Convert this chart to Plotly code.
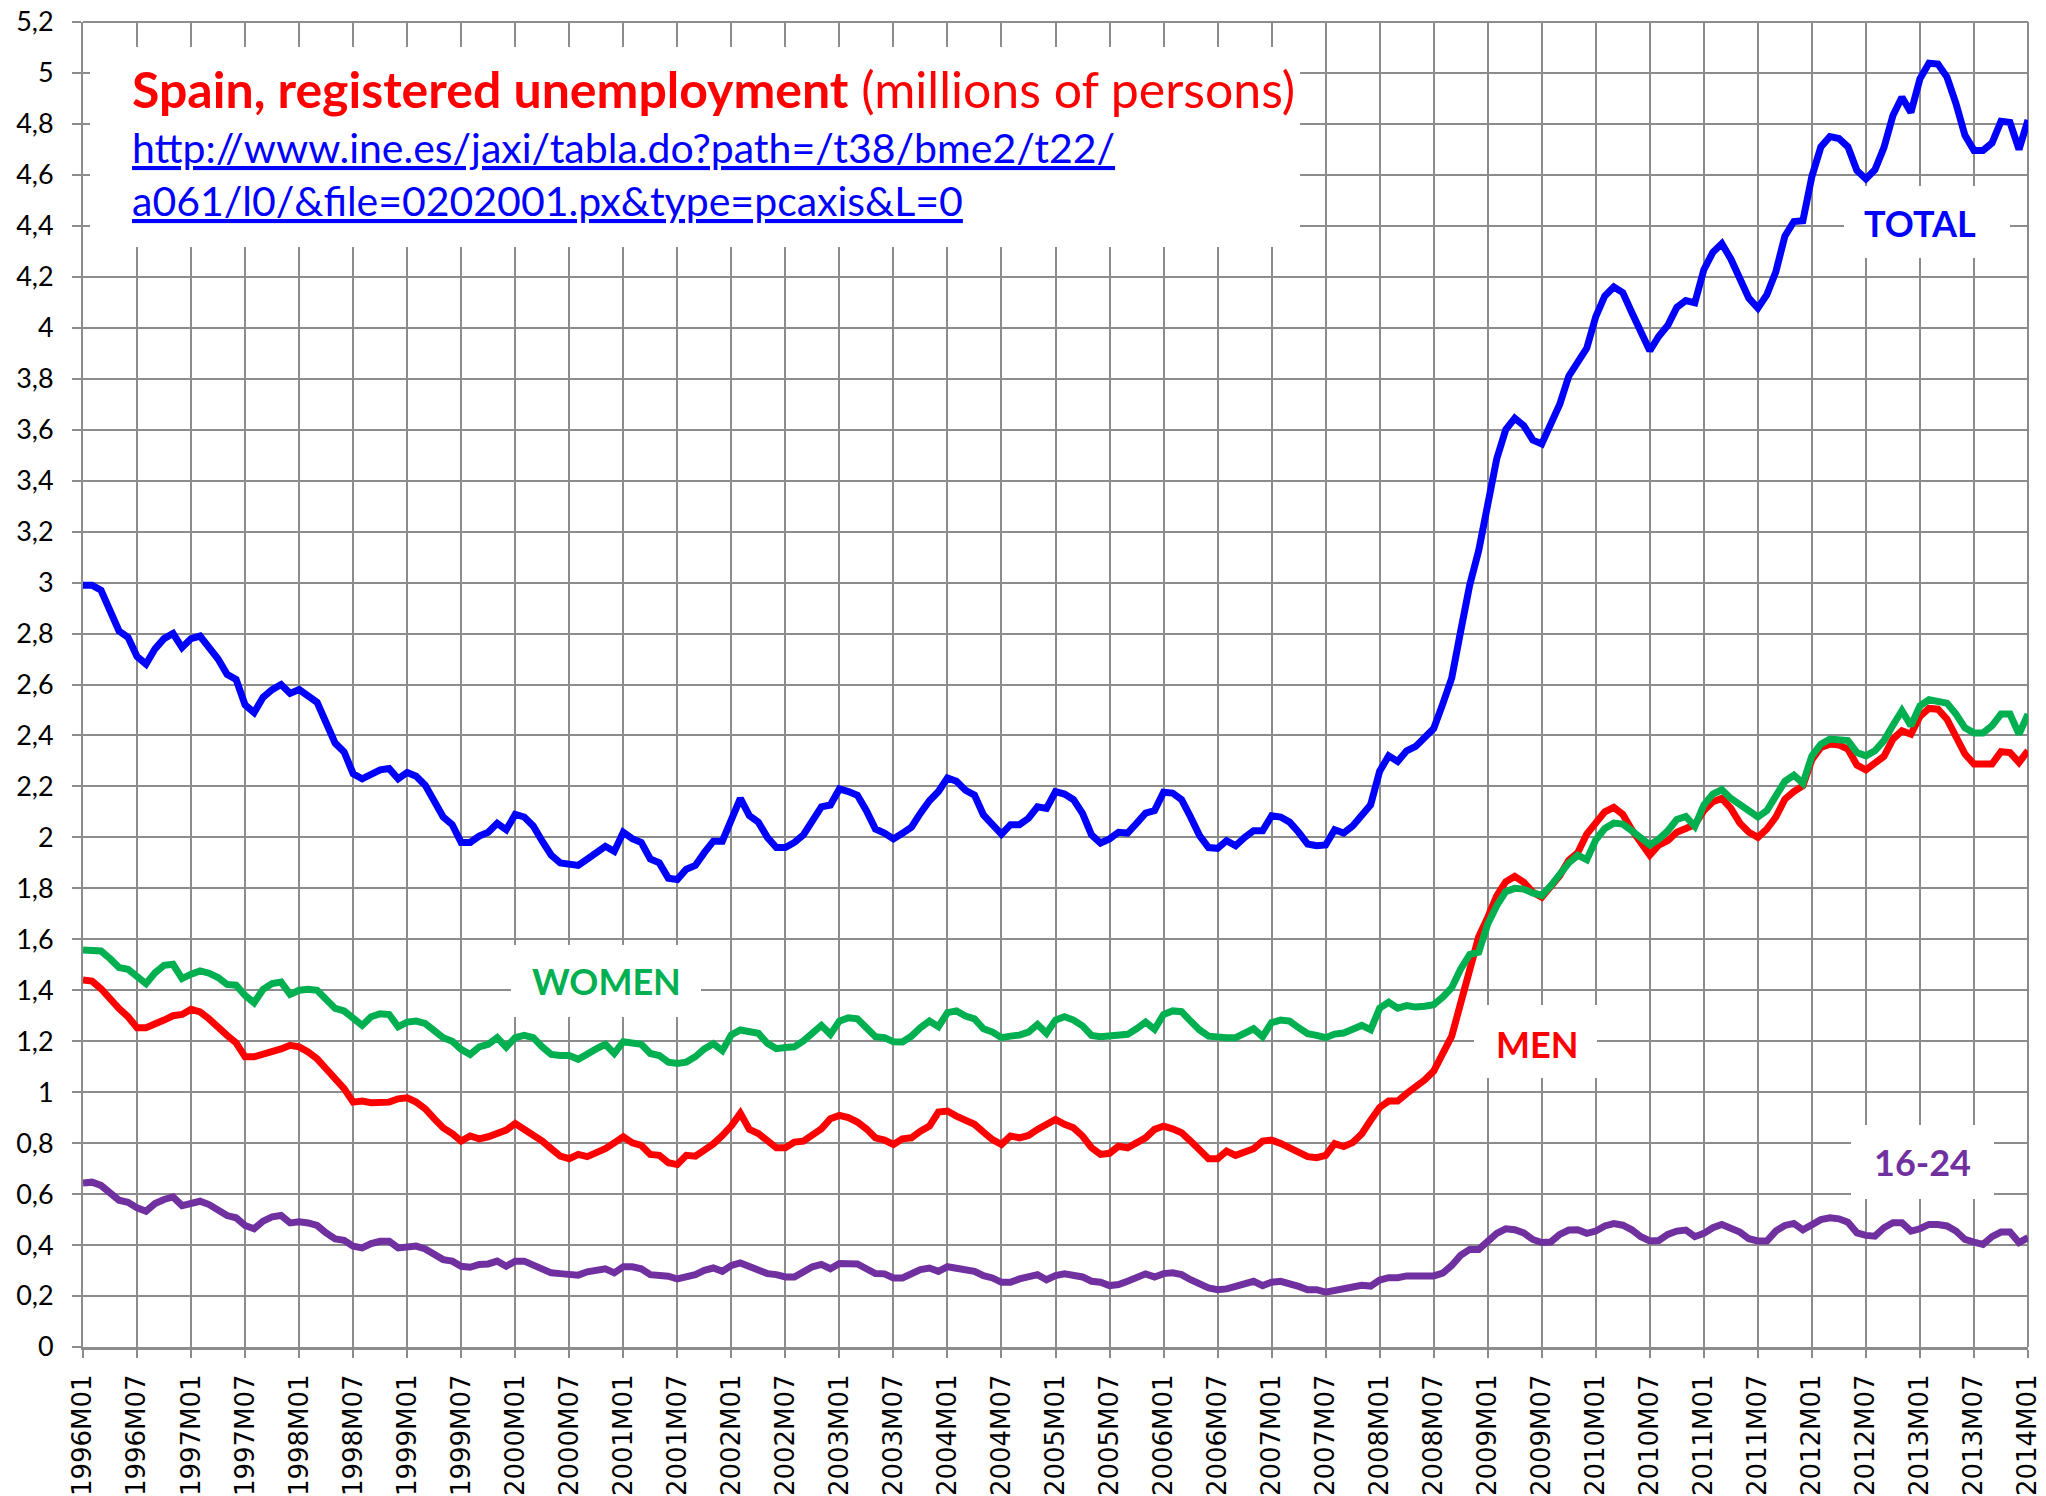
import plotly.graph_objects as go

# ---------------- data (millions of persons) ----------------
months = [f"{y}M{m:02d}" for y in range(1996, 2014) for m in range(1, 13)] + ["2014M01"]

total = (
    [2.99, 2.99, 2.97, 2.89, 2.81, 2.785, 2.71, 2.68, 2.74, 2.78, 2.80, 2.745]      # 1996
    + [2.78, 2.79, 2.75, 2.70, 2.64, 2.62, 2.52, 2.49, 2.55, 2.58, 2.60, 2.565]     # 1997
    + [2.58, 2.555, 2.53, 2.45, 2.37, 2.335, 2.25, 2.23, 2.25, 2.265, 2.27, 2.23]   # 1998
    + [2.255, 2.24, 2.205, 2.145, 2.08, 2.05, 1.98, 1.98, 2.005, 2.02, 2.055, 2.03] # 1999
    + [2.09, 2.08, 2.045, 1.985, 1.93, 1.90, 1.895, 1.89, 1.915, 1.94, 1.965, 1.945]# 2000
    + [2.02, 1.995, 1.98, 1.915, 1.90, 1.84, 1.835, 1.875, 1.89, 1.94, 1.985, 1.985]# 2001
    + [2.07, 2.153, 2.085, 2.06, 2.0, 1.96, 1.96, 1.98, 2.01, 2.065, 2.12, 2.127]   # 2002
    + [2.19, 2.18, 2.165, 2.105, 2.033, 2.017, 1.994, 2.016, 2.04, 2.095, 2.144, 2.18]  # 2003
    + [2.233, 2.22, 2.185, 2.166, 2.088, 2.05, 2.013, 2.05, 2.05, 2.075, 2.12, 2.114]   # 2004
    + [2.18, 2.17, 2.148, 2.094, 2.01, 1.978, 1.994, 2.02, 2.017, 2.055, 2.095, 2.105]  # 2005
    + [2.177, 2.174, 2.148, 2.08, 2.007, 1.96, 1.957, 1.987, 1.967, 2.0, 2.026, 2.026]  # 2006
    + [2.085, 2.08, 2.06, 2.02, 1.974, 1.967, 1.97, 2.03, 2.017, 2.045, 2.09, 2.128]    # 2007
    + [2.26, 2.32, 2.298, 2.34, 2.357, 2.392, 2.427, 2.523, 2.625, 2.81, 2.99, 3.126]   # 2008
    + [3.32, 3.486, 3.60, 3.645, 3.616, 3.56, 3.544, 3.62, 3.70, 3.81, 3.868, 3.92]     # 2009
    + [4.044, 4.125, 4.16, 4.138, 4.06, 3.98, 3.91, 3.967, 4.01, 4.08, 4.107, 4.098]    # 2010
    + [4.228, 4.296, 4.33, 4.27, 4.185, 4.116, 4.077, 4.13, 4.22, 4.36, 4.417, 4.42]    # 2011
    + [4.594, 4.71, 4.75, 4.743, 4.71, 4.617, 4.584, 4.62, 4.707, 4.833, 4.905, 4.845]  # 2012
    + [4.977, 5.038, 5.035, 4.984, 4.88, 4.755, 4.696, 4.696, 4.725, 4.81, 4.806, 4.70] # 2013
    + [4.815]                                                                            # 2014
)

men = (
    [1.44, 1.436, 1.406, 1.362, 1.328, 1.296, 1.253, 1.253, 1.266, 1.283, 1.30, 1.305]
    + [1.325, 1.315, 1.288, 1.253, 1.223, 1.194, 1.139, 1.139, 1.148, 1.155, 1.17, 1.184]
    + [1.178, 1.158, 1.131, 1.092, 1.05, 1.014, 0.961, 0.965, 0.959, 0.959, 0.961, 0.974]
    + [0.978, 0.961, 0.935, 0.896, 0.86, 0.838, 0.808, 0.828, 0.817, 0.825, 0.841, 0.851]
    + [0.877, 0.856, 0.83, 0.808, 0.778, 0.749, 0.739, 0.756, 0.747, 0.76, 0.778, 0.801]
    + [0.825, 0.801, 0.791, 0.756, 0.752, 0.723, 0.716, 0.752, 0.749, 0.773, 0.797, 0.83]
    + [0.868, 0.917, 0.854, 0.838, 0.808, 0.782, 0.782, 0.804, 0.808, 0.834, 0.856, 0.896]
    + [0.909, 0.9, 0.883, 0.856, 0.821, 0.812, 0.795, 0.817, 0.821, 0.847, 0.867, 0.922]
    + [0.926, 0.906, 0.887, 0.874, 0.843, 0.814, 0.795, 0.828, 0.821, 0.83, 0.854, 0.877]
    + [0.893, 0.874, 0.86, 0.828, 0.782, 0.756, 0.76, 0.788, 0.782, 0.801, 0.821, 0.854]
    + [0.867, 0.856, 0.841, 0.808, 0.769, 0.739, 0.739, 0.769, 0.752, 0.762, 0.778, 0.808]
    + [0.812, 0.799, 0.782, 0.769, 0.747, 0.743, 0.752, 0.798, 0.787, 0.802, 0.836, 0.89]
    + [0.94, 0.965, 0.965, 0.995, 1.018, 1.048, 1.083, 1.15, 1.22, 1.35, 1.48, 1.61]
    + [1.686, 1.77, 1.826, 1.847, 1.824, 1.785, 1.765, 1.81, 1.85, 1.91, 1.94, 2.013]
    + [2.06, 2.10, 2.118, 2.09, 2.03, 1.974, 1.93, 1.97, 1.987, 2.02, 2.033, 2.05]
    + [2.105, 2.14, 2.153, 2.114, 2.056, 2.02, 2.0, 2.033, 2.08, 2.15, 2.18, 2.203]
    + [2.305, 2.353, 2.366, 2.363, 2.346, 2.284, 2.265, 2.288, 2.318, 2.386, 2.418, 2.405]
    + [2.475, 2.506, 2.503, 2.464, 2.40, 2.327, 2.288, 2.288, 2.288, 2.336, 2.333, 2.294]
    + [2.34]
)

women = (
    [1.558, 1.558, 1.554, 1.524, 1.489, 1.482, 1.456, 1.426, 1.469, 1.498, 1.502, 1.446]
    + [1.463, 1.476, 1.467, 1.45, 1.423, 1.42, 1.38, 1.351, 1.404, 1.426, 1.432, 1.384]
    + [1.40, 1.404, 1.40, 1.362, 1.329, 1.319, 1.286, 1.262, 1.296, 1.308, 1.305, 1.257]
    + [1.275, 1.279, 1.27, 1.244, 1.214, 1.20, 1.168, 1.148, 1.178, 1.188, 1.214, 1.177]
    + [1.214, 1.223, 1.214, 1.178, 1.148, 1.144, 1.144, 1.129, 1.152, 1.17, 1.188, 1.152]
    + [1.198, 1.194, 1.188, 1.152, 1.144, 1.118, 1.113, 1.118, 1.139, 1.17, 1.19, 1.163]
    + [1.225, 1.244, 1.24, 1.231, 1.192, 1.171, 1.175, 1.178, 1.201, 1.233, 1.262, 1.227]
    + [1.279, 1.292, 1.288, 1.253, 1.218, 1.214, 1.198, 1.197, 1.22, 1.253, 1.279, 1.257]
    + [1.312, 1.319, 1.299, 1.288, 1.249, 1.236, 1.214, 1.22, 1.224, 1.236, 1.266, 1.231]
    + [1.283, 1.296, 1.283, 1.26, 1.223, 1.218, 1.223, 1.227, 1.227, 1.249, 1.275, 1.247]
    + [1.305, 1.319, 1.316, 1.279, 1.244, 1.22, 1.214, 1.214, 1.214, 1.233, 1.249, 1.218]
    + [1.273, 1.283, 1.279, 1.253, 1.23, 1.223, 1.214, 1.228, 1.232, 1.247, 1.262, 1.245]
    + [1.33, 1.353, 1.33, 1.34, 1.334, 1.337, 1.343, 1.373, 1.41, 1.484, 1.54, 1.55]
    + [1.66, 1.732, 1.787, 1.80, 1.797, 1.782, 1.772, 1.81, 1.856, 1.90, 1.93, 1.912]
    + [1.99, 2.035, 2.056, 2.052, 2.026, 1.996, 1.97, 1.993, 2.026, 2.07, 2.082, 2.043]
    + [2.127, 2.17, 2.187, 2.153, 2.13, 2.105, 2.08, 2.105, 2.164, 2.22, 2.244, 2.212]
    + [2.32, 2.366, 2.386, 2.386, 2.38, 2.333, 2.32, 2.34, 2.38, 2.44, 2.497, 2.438]
    + [2.516, 2.54, 2.536, 2.527, 2.484, 2.43, 2.41, 2.41, 2.438, 2.484, 2.484, 2.405]
    + [2.484]
)

youth = (
    [0.644, 0.647, 0.634, 0.601, 0.576, 0.568, 0.546, 0.533, 0.563, 0.579, 0.589, 0.555]
    + [0.566, 0.572, 0.559, 0.539, 0.516, 0.507, 0.477, 0.464, 0.494, 0.511, 0.516, 0.487]
    + [0.491, 0.487, 0.477, 0.448, 0.424, 0.419, 0.396, 0.389, 0.406, 0.415, 0.415, 0.389]
    + [0.396, 0.396, 0.385, 0.367, 0.343, 0.337, 0.317, 0.313, 0.324, 0.326, 0.337, 0.317]
    + [0.337, 0.337, 0.324, 0.304, 0.291, 0.288, 0.282, 0.282, 0.295, 0.301, 0.307, 0.291]
    + [0.315, 0.315, 0.307, 0.284, 0.282, 0.278, 0.267, 0.275, 0.284, 0.301, 0.31, 0.297]
    + [0.32, 0.33, 0.317, 0.307, 0.288, 0.284, 0.275, 0.275, 0.293, 0.315, 0.324, 0.307]
    + [0.328, 0.33, 0.326, 0.307, 0.288, 0.287, 0.271, 0.271, 0.288, 0.304, 0.31, 0.297]
    + [0.315, 0.31, 0.301, 0.297, 0.28, 0.271, 0.254, 0.254, 0.267, 0.275, 0.284, 0.264]
    + [0.28, 0.287, 0.284, 0.275, 0.258, 0.254, 0.241, 0.245, 0.258, 0.275, 0.287, 0.275]
    + [0.288, 0.291, 0.284, 0.264, 0.245, 0.232, 0.225, 0.228, 0.238, 0.251, 0.258, 0.241]
    + [0.254, 0.258, 0.251, 0.238, 0.225, 0.225, 0.215, 0.223, 0.232, 0.235, 0.242, 0.239]
    + [0.263, 0.272, 0.272, 0.279, 0.279, 0.281, 0.279, 0.29, 0.32, 0.36, 0.383, 0.383]
    + [0.417, 0.446, 0.464, 0.46, 0.448, 0.422, 0.41, 0.412, 0.442, 0.459, 0.46, 0.446]
    + [0.455, 0.475, 0.484, 0.478, 0.46, 0.433, 0.416, 0.418, 0.442, 0.455, 0.459, 0.433]
    + [0.446, 0.468, 0.481, 0.468, 0.451, 0.425, 0.416, 0.416, 0.455, 0.477, 0.485, 0.46]
    + [0.477, 0.5, 0.507, 0.503, 0.49, 0.448, 0.438, 0.435, 0.468, 0.488, 0.488, 0.455]
    + [0.464, 0.481, 0.481, 0.475, 0.455, 0.422, 0.412, 0.403, 0.433, 0.451, 0.451, 0.41]
    + [0.429]
)

x_tick_labels = months[::6]
y_tick_values = [0, 0.2, 0.4, 0.6, 0.8, 1, 1.2, 1.4, 1.6, 1.8, 2, 2.2, 2.4, 2.6,
                 2.8, 3, 3.2, 3.4, 3.6, 3.8, 4, 4.2, 4.4, 4.6, 4.8, 5, 5.2]
y_tick_labels = ["0", "0,2", "0,4", "0,6", "0,8", "1", "1,2", "1,4", "1,6", "1,8",
                 "2", "2,2", "2,4", "2,6", "2,8", "3", "3,2", "3,4", "3,6", "3,8",
                 "4", "4,2", "4,4", "4,6", "4,8", "5", "5,2"]

series = [
    ("TOTAL", total, "#0000FF"),
    ("MEN", men, "#FF0000"),
    ("WOMEN", women, "#00B050"),
    ("16-24", youth, "#7030A0"),
]

# ---------------- figure ----------------
W, H = 2046, 1496
PL, PR, PT, PB = 83, 2028, 22, 1347    # plot area, in page pixels
GRID = "#8c8c8c"


def px(x):
    return (x - PL) / (PR - PL)


def py(y):
    return (PB - y) / (PB - PT)


fig = go.Figure()
for name, vals, col in series:
    fig.add_trace(go.Scatter(x=months, y=vals, mode="lines", name=name,
                             line=dict(color=col, width=7)))

shapes = []
# white boxes (title block + series labels)
for (x0, y0, x1, y1) in [(90, 47, 1300, 247), (511, 945, 701, 1017),
                         (1474, 1005, 1597, 1078), (1844, 186, 2010, 258),
                         (1851, 1125, 1994, 1199)]:
    shapes.append(dict(type="rect", xref="paper", yref="paper",
                       x0=px(x0), x1=px(x1), y0=py(y1), y1=py(y0),
                       fillcolor="white", line=dict(width=0), layer="above"))
# top and right border (grid-like)
shapes.append(dict(type="line", xref="paper", yref="paper", x0=0, x1=1, y0=1, y1=1,
                   line=dict(color=GRID, width=2), layer="below"))
shapes.append(dict(type="line", xref="paper", yref="paper", x0=1, x1=1, y0=0, y1=1,
                   line=dict(color=GRID, width=2), layer="below"))

LABEL_FONT = "Lato, 'Open Sans', sans-serif"
annotations = [
    dict(text="<b>Spain, registered unemployment</b> (millions of persons)",
         x=px(130), y=py(89), xanchor="left", yanchor="middle",
         font=dict(family=LABEL_FONT, size=50, color="#FF0000")),
    dict(text="<u>http://www.ine.es/jaxi/tabla.do?path=/t38/bme2/t22/</u>",
         x=px(130), y=py(148), xanchor="left", yanchor="middle",
         font=dict(family=LABEL_FONT, size=41, color="#0000FF")),
    dict(text="<u>a061/l0/&file=0202001.px&type=pcaxis&L=0</u>",
         x=px(130), y=py(200), xanchor="left", yanchor="middle",
         font=dict(family=LABEL_FONT, size=41, color="#0000FF")),
    dict(text="<b>WOMEN</b>", x=px(606), y=py(981), xanchor="center", yanchor="middle",
         font=dict(family=LABEL_FONT, size=36, color="#00B050")),
    dict(text="<b>MEN</b>", x=px(1537), y=py(1044), xanchor="center", yanchor="middle",
         font=dict(family=LABEL_FONT, size=36, color="#FF0000")),
    dict(text="<b>TOTAL</b>", x=px(1920), y=py(223), xanchor="center", yanchor="middle",
         font=dict(family=LABEL_FONT, size=36, color="#0000FF")),
    dict(text="<b>16-24</b>", x=px(1922), y=py(1162), xanchor="center", yanchor="middle",
         font=dict(family=LABEL_FONT, size=36, color="#7030A0")),
]
for a in annotations:
    a.update(xref="paper", yref="paper", showarrow=False)

fig.update_layout(
    width=W, height=H,
    margin=dict(l=PL, r=W - PR, t=PT, b=H - PB, pad=0),
    paper_bgcolor="white", plot_bgcolor="white",
    showlegend=False,
    shapes=shapes, annotations=annotations,
)
fig.update_xaxes(
    type="category", range=[0, len(months) - 1],
    tickmode="array", tickvals=x_tick_labels, ticktext=x_tick_labels,
    tickangle=-90, tickfont=dict(family="'DejaVu Sans', sans-serif", size=26, color="#000"),
    showgrid=True, gridcolor=GRID, gridwidth=2,
    showline=True, linecolor=GRID, linewidth=3,
    ticks="outside", ticklen=8, tickcolor=GRID, tickwidth=2,
    ticklabelstandoff=6, ticklabeloverflow="allow", automargin=False,
)
fig.update_yaxes(
    range=[0, 5.2], tickmode="array", tickvals=y_tick_values, ticktext=y_tick_labels,
    tickfont=dict(family=LABEL_FONT, size=27, color="#000"),
    showgrid=True, gridcolor=GRID, gridwidth=2, zeroline=False,
    showline=True, linecolor=GRID, linewidth=2,
    ticks="outside", ticklen=9, tickcolor=GRID, tickwidth=2,
    ticklabelstandoff=13, ticklabeloverflow="allow", automargin=False,
)

# remove the browser's default 8px body margin so the figure fills the page exactly
fig.write_html("out.html",
               config={"displayModeBar": False},
               post_script="document.body.style.margin='0px';document.body.style.overflow='hidden';")
